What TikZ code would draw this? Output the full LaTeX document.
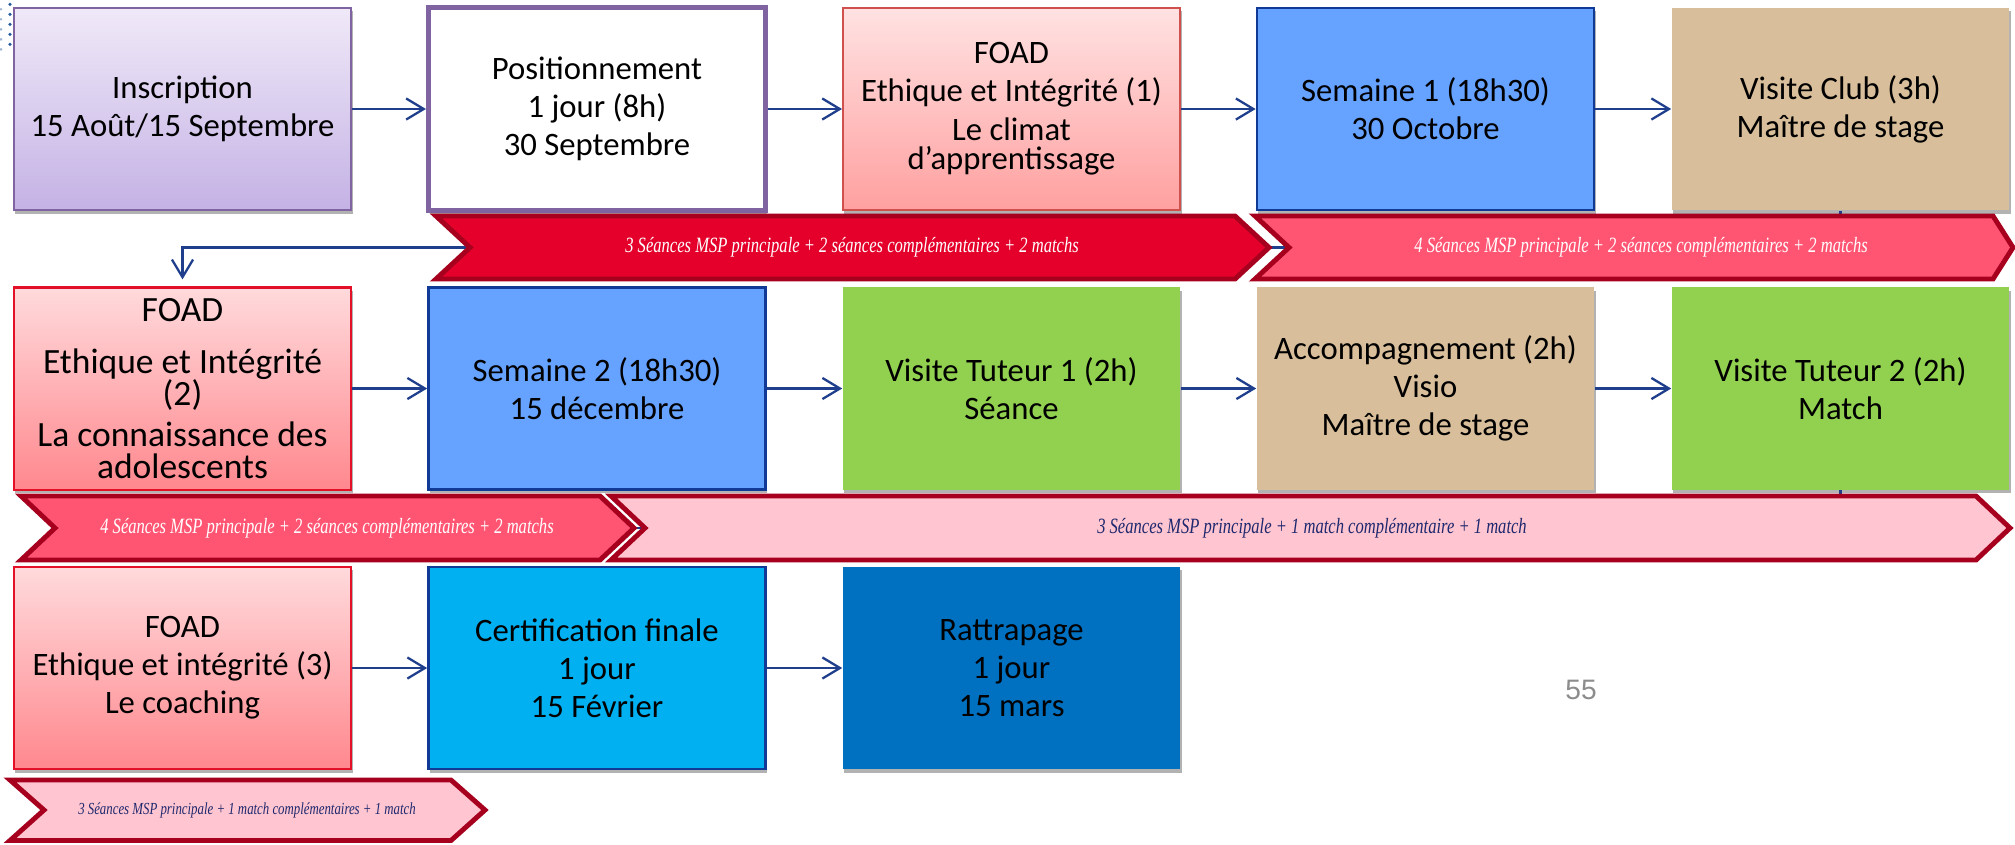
\documentclass[tikz,border=0pt]{standalone}
\usepackage{fontspec}
\setmainfont{Carlito}
\newfontfamily\ribfont[FakeStretch=0.76]{Liberation Serif}
\newfontfamily\pagenumfont{Liberation Sans}
\usetikzlibrary{arrows.meta,shadows}
\definecolor{arrowblue}{RGB}{31,62,140}
\definecolor{purpleb}{RGB}{128,100,162}
\definecolor{lavtop}{RGB}{240,233,248}
\definecolor{lavbot}{RGB}{196,178,229}
\definecolor{pinktop}{RGB}{255,226,226}
\definecolor{pinkbot}{RGB}{255,160,160}
\definecolor{foadborder}{RGB}{208,80,77}
\definecolor{redtop}{RGB}{255,218,220}
\definecolor{redbot}{RGB}{255,136,142}
\definecolor{redborder}{RGB}{228,16,40}
\definecolor{semblue}{RGB}{102,162,255}
\definecolor{semborder}{RGB}{16,58,150}
\definecolor{tanbox}{RGB}{216,190,154}
\definecolor{grnbox}{RGB}{146,208,80}
\definecolor{cyanbox}{RGB}{0,176,240}
\definecolor{darkbox}{RGB}{0,112,192}
\definecolor{ribborder}{RGB}{166,0,30}
\definecolor{ribred}{RGB}{228,0,43}
\definecolor{ribpink}{RGB}{255,85,115}
\definecolor{riblight}{RGB}{255,197,208}
\definecolor{ribtext}{RGB}{30,40,110}
\definecolor{pagegray}{RGB}{140,140,140}
\definecolor{dotblue}{RGB}{40,90,160}
\newcommand\bxfont{\fontsize{9.3}{8.4}\selectfont\lineskiplimit=-20pt\relax}
\newcommand\bxbigfont{\fontsize{10.1}{9.1}\selectfont\lineskiplimit=-20pt\relax}
\tikzset{
  box/.style={rectangle, minimum width=3.37cm, minimum height=2.02cm,
    inner sep=2pt, align=center, font=\bxfont, text=black,
    drop shadow={shadow xshift=0.4pt, shadow yshift=-1pt, opacity=0.3, fill=black}},
  flow/.style={draw=arrowblue, line width=0.65pt,
    -{Straight Barb[length=5pt,width=6pt]}},
  ribbon/.style={draw=ribborder, line width=1.4pt, line join=miter},
  ribtxt/.style={font=\ribfont\itshape\fontsize{6.2}{7}\selectfont, inner sep=0pt},
}
\begin{document}
\begin{tikzpicture}[x=0.01cm, y=-0.01cm]
\useasboundingbox (0,0) rectangle (2015,844);
% slide artifact dots
\draw[dotblue, line width=1pt, dash pattern=on 0pt off 2.85pt, line cap=round] (10,4.3) -- (10,46);
\draw[dotblue!45, line width=0.8pt, dash pattern=on 0pt off 2.85pt, line cap=round] (1,9.3) -- (1,50);

% ---- row 1
\node[box, top color=lavtop, bottom color=lavbot, draw=purpleb, line width=0.5pt] (ins) at (182.5,109)
  {Inscription\\[2.4pt]15 Août/15 Septembre};
\node[box, fill=white, draw=purpleb, line width=1.4pt] (pos) at (597,109)
  {Positionnement\\[2.4pt]1 jour (8h)\\[2.4pt]30 Septembre};
\node[box, top color=pinktop, bottom color=pinkbot, draw=foadborder, line width=0.5pt] (foad1) at (1011.5,109)
  {FOAD\\[2.4pt]Ethique et Intégrité (1)\\[2.6pt]Le climat\\d’apprentissage};
\node[box, fill=semblue, draw=semborder, line width=0.7pt] (sem1) at (1425.5,109)
  {Semaine 1 (18h30)\\[2.4pt]30 Octobre};
\node[box, fill=tanbox] (vclub) at (1840.5,109)
  {Visite Club (3h)\\[2.4pt]Maître de stage};

% ---- row 2
\node[box, top color=redtop, bottom color=redbot, draw=redborder, line width=0.6pt, font=\bxbigfont] (foad2) at (182.5,388.5)
  {FOAD\\[5.5pt]Ethique et Intégrité\\(2)\\[2.6pt]La connaissance des\\adolescents};
\node[box, fill=semblue, draw=semborder, line width=0.7pt] (sem2) at (597,388.5)
  {Semaine 2 (18h30)\\[2.4pt]15 décembre};
\node[box, fill=grnbox] (vt1) at (1011.5,388.5)
  {Visite Tuteur 1 (2h)\\[2.4pt]Séance};
\node[box, fill=tanbox] (acc) at (1425.5,388.5)
  {Accompagnement (2h)\\[2.4pt]Visio\\[2.4pt]Maître de stage};
\node[box, fill=grnbox] (vt2) at (1840.5,388.5)
  {Visite Tuteur 2 (2h)\\[2.4pt]Match};

% ---- row 3
\node[box, top color=redtop, bottom color=redbot, draw=redborder, line width=0.6pt] (foad3) at (182.5,668)
  {FOAD\\[2.4pt]Ethique et intégrité (3)\\[2.4pt]Le coaching};
\node[box, fill=cyanbox, draw=semborder, line width=0.7pt] (cert) at (597,668)
  {Certification finale\\[2.4pt]1 jour\\[2.4pt]15 Février};
\node[box, fill=darkbox] (ratt) at (1011.5,668)
  {Rattrapage\\[2.4pt]1 jour\\[2.4pt]15 mars};

% ---- connectors
\draw[flow] (ins) -- (pos);
\draw[flow] (pos) -- (foad1);
\draw[flow] (foad1) -- (sem1);
\draw[flow] (sem1) -- (vclub);
\draw[flow] (foad2) -- (sem2);
\draw[flow] (sem2) -- (vt1);
\draw[flow] (vt1) -- (acc);
\draw[flow] (acc) -- (vt2);
\draw[flow] (foad3) -- (cert);
\draw[flow] (cert) -- (ratt);
\coordinate (k1) at (1000,247.5);
\coordinate (k2) at (1000,528);
\draw[flow, shorten >=2pt] (vclub.south) |- (k1) -| (foad2.north);
\draw[flow, shorten >=2pt] (vt2.south) |- (k2) -| (foad3.north);

% ---- ribbons
\draw[ribbon, fill=ribred] (436,216) -- (1235,216) -- (1269,247.5) -- (1235,279) -- (436,279) -- (470,247.5) -- cycle;
\node[ribtxt, text=white] (t1) at (852,247.5) {3 Séances MSP principale + 2 séances complémentaires + 2 matchs};
\draw[ribbon, fill=ribpink] (1255,216) -- (1993,216) -- (2013,247.5) -- (1993,279) -- (1255,279) -- (1289,247.5) -- cycle;
\node[ribtxt, text=white] (t2) at (1641,247.5) {4 Séances MSP principale + 2 séances complémentaires + 2 matchs};

\draw[ribbon, fill=ribpink] (21,496) -- (600,496) -- (634,528) -- (600,560) -- (21,560) -- (55,528) -- cycle;
\node[ribtxt, text=white] (t3) at (327,528) {4 Séances MSP principale + 2 séances complémentaires + 2 matchs};
\draw[ribbon, fill=riblight] (611,496) -- (1976,496) -- (2010,528) -- (1976,560) -- (611,560) -- (645,528) -- cycle;
\node[ribtxt, text=ribtext] (t4) at (1312,528) {3 Séances MSP principale + 1 match complémentaire + 1 match};

\draw[ribbon, fill=riblight] (10,780) -- (451,780) -- (485,810) -- (451,840.5) -- (10,840.5) -- (44,810) -- cycle;
\node[ribtxt, text=ribtext, font=\ribfont\itshape\fontsize{4.8}{5.5}\selectfont] (t5) at (247,810) {3 Séances MSP principale + 1 match complémentaires + 1 match};

% ---- page number
\node[font=\pagenumfont\fontsize{8}{9}\selectfont, text=pagegray, inner sep=0pt] (pg) at (1581,690) {55};
\end{tikzpicture}
\end{document}
